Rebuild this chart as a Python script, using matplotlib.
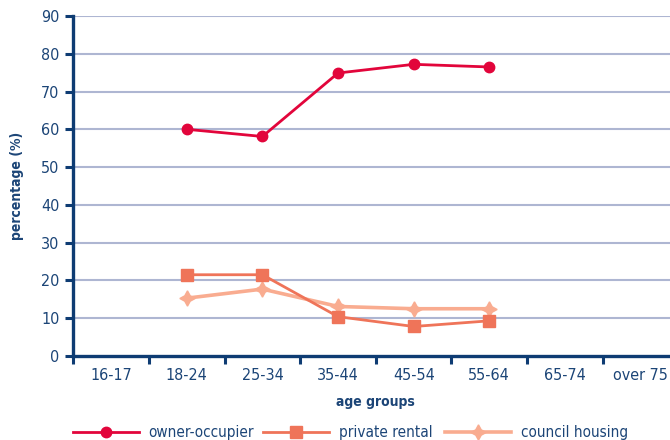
import matplotlib
matplotlib.use("Agg")
import matplotlib.pyplot as plt

plt.rcParams['font.family'] = ['DejaVu Sans']
plt.rcParams['font.stretch'] = 'condensed'

age_groups = ["16-17", "18-24", "25-34", "35-44", "45-54", "55-64", "65-74", "over 75"]
owner_occupier = [None, 60.0, 58.1, 74.9, 77.2, 76.5, None, None]
private_rental = [None, 21.5, 21.5, 10.4, 7.8, 9.3, None, None]
council_housing = [None, 15.3, 17.7, 13.1, 12.5, 12.5, None, None]
y_ticks = [0, 10, 20, 30, 40, 50, 60, 70, 80, 90]

navy = "#0E3C73"
text_col = "#1C4577"
grid_col = "#AEB6D2"


def points(values):
    xs = [i for i, v in enumerate(values) if v is not None]
    ys = [v for v in values if v is not None]
    return xs, ys


fig = plt.figure(figsize=(6.7, 4.4), dpi=100)
ax = fig.add_axes([0.1095, 0.191, 0.903, 0.7727])

for y in y_ticks[1:]:
    ax.axhline(y, color=grid_col, lw=1.5, zorder=1)

x, y = points(owner_occupier)
h_owner, = ax.plot(x, y, color="#E2053B", lw=2.0, marker="o", ms=7.5,
                   zorder=4, label="owner-occupier")
x, y = points(private_rental)
h_private, = ax.plot(x, y, color="#EF7459", lw=2.0, marker="s", ms=8.5,
                     zorder=3, label="private rental")
x, y = points(council_housing)
h_council, = ax.plot(x, y, color="#F9AC90", lw=2.6, marker=(4, 1, 0), ms=11,
                     zorder=2, label="council housing")

ax.set_xlim(-0.5, len(age_groups) - 0.5)
ax.set_ylim(0, 90)
ax.set_yticks(y_ticks)
ax.set_xticks([i - 0.5 for i in range(len(age_groups))])
ax.set_xticklabels([])
ax.set_xticks(range(len(age_groups)), minor=True)
ax.set_xticklabels(age_groups, minor=True)
ax.tick_params(axis="x", which="minor", length=0, pad=9, labelsize=11.5,
               labelcolor=text_col)
ax.tick_params(axis="x", which="major", length=6, width=2.2, color=navy,
               direction="out")
ax.tick_params(axis="y", length=6, width=2.2, color=navy, labelsize=11.5,
               labelcolor=text_col, pad=4)

for side in ("top", "right"):
    ax.spines[side].set_visible(False)
for side in ("left", "bottom"):
    ax.spines[side].set_color(navy)
    ax.spines[side].set_linewidth(2.4)

ax.set_xlabel("age groups", fontsize=10, fontweight="bold", color=text_col,
              labelpad=8)
ax.set_ylabel("percentage (%)", fontsize=10, fontweight="bold",
              color=text_col, labelpad=12)

# one legend entry per series, spread along the bottom edge
for handle, x_left in ((h_owner, 0.109), (h_private, 0.3925), (h_council, 0.664)):
    fig.legend(handles=[handle], loc="center left",
               bbox_to_anchor=(x_left, 0.017), frameon=False, fontsize=11,
               handlelength=4.3, handletextpad=0.65, borderpad=0,
               borderaxespad=0, labelcolor=text_col)

fig.savefig("out.png", dpi=100)
